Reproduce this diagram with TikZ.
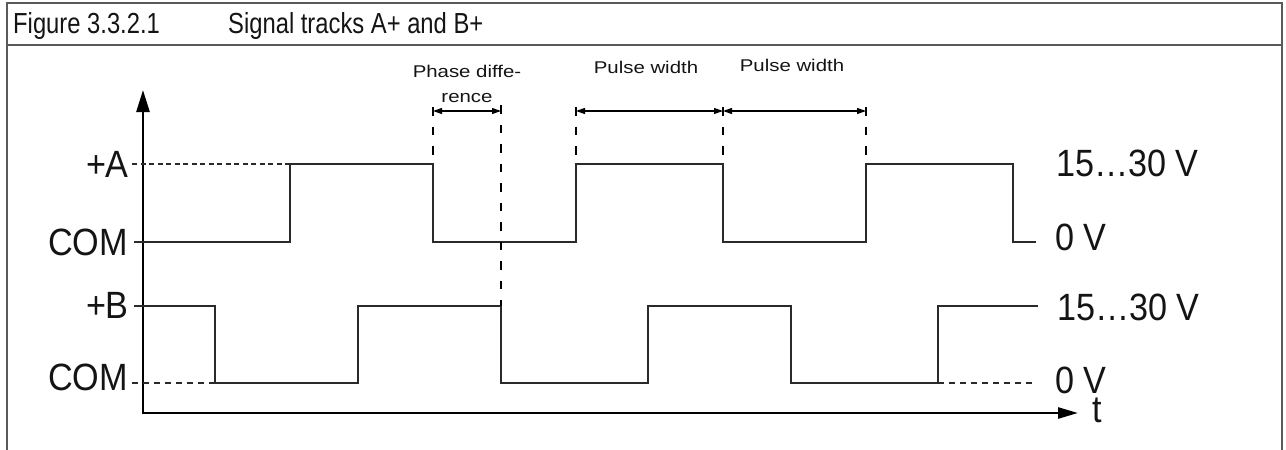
\documentclass[tikz,border=0pt]{standalone}
\usepackage{fontspec}
\setmainfont{Liberation Sans}
\newfontfamily\bigf[FakeStretch=0.9]{Liberation Sans}
\newfontfamily\titf[FakeStretch=0.82]{Liberation Sans}
\newfontfamily\smallf[FakeStretch=1.2]{Liberation Sans}
\usetikzlibrary{arrows.meta}
\definecolor{framecol}{HTML}{5A5A5A}
\definecolor{sigcol}{HTML}{2A2A2A}
\definecolor{txtcol}{HTML}{141414}
\tikzset{
  frameline/.style={draw=framecol, line width=1.4pt},
  sig/.style={draw=sigcol, line width=1.3pt, line join=miter},
  axisline/.style={draw=black, line width=2.6pt, line join=miter},
  dashA/.style={draw=sigcol, line width=1.1pt, dash pattern=on 5pt off 3.5pt},
  dashB/.style={draw=sigcol, line width=1.1pt, dash pattern=on 6pt off 5pt},
  guide/.style={draw=black, line width=1.1pt, dash pattern=on 8.5pt off 11pt},
  dimarrow/.style={draw=black, line width=1.1pt, {Triangle[length=9pt,width=6pt]}-{Triangle[length=9pt,width=6pt]}},
  titletext/.style={inner sep=0pt, text=txtcol, font=\titf\fontsize{29}{31}\selectfont},
  bigtext/.style={inner sep=0pt, text=txtcol, font=\bigf\fontsize{38}{40}\selectfont},
  smalltext/.style={inner sep=0pt, text=txtcol, font=\smallf\fontsize{17}{19}\selectfont},
}
\begin{document}
\begin{tikzpicture}[x=1pt,y=-1pt]
\useasboundingbox (0,0) rectangle (1286,450);
% frame
\draw[frameline] (7,450) -- (7,3) -- (1282,3) -- (1282,450);
\draw[frameline] (7,45) -- (1282,45);
% title
\node[titletext, anchor=base west] (fig) at (13,33.5) {Figure 3.3.2.1};
\node[titletext, anchor=base west] (title) at (228,33.5) {Signal tracks A+ and B+};
% axes
\coordinate (O) at (143,413);
\coordinate (Ytip) at (143,90);
\coordinate (Xtip) at (1078,413);
\draw[axisline, {Triangle[length=22pt,width=13pt]}-{Triangle[length=20pt,width=11pt]}] (Ytip) -- (O) -- (Xtip);
% dashed reference lines
\draw[dashA] (132,164) -- (290,164);
\draw[dashB] (132,383) -- (215,383);
\draw[dashB] (938,383) -- (1036,383);
% signal A
\draw[sig] (134,242) -- (290,242) -- (290,164) -- (433,164) -- (433,242) -- (576,242) -- (576,164) -- (723,164) -- (723,242) -- (866,242) -- (866,164) -- (1013,164) -- (1013,242) -- (1036,242);
% signal B
\draw[sig] (134,306) -- (215,306) -- (215,383) -- (358,383) -- (358,306) -- (501,306) -- (501,383) -- (648,383) -- (648,306) -- (791,306) -- (791,383) -- (938,383) -- (938,306) -- (1038,306);
% guide lines
\coordinate (g1) at (433,107); \coordinate (g2) at (501,105);
\coordinate (g3) at (576,107); \coordinate (g4) at (723,107); \coordinate (g5) at (866,107);
\draw[guide] (g1) -- (433,164);
\draw[guide] (g2) -- (501,306);
\draw[guide] (g3) -- (576,164);
\draw[guide] (g4) -- (723,164);
\draw[guide] (g5) -- (866,164);
% dimension arrows
\coordinate (d1) at (433,111); \coordinate (d2) at (501,111);
\coordinate (d3) at (576,111); \coordinate (d4) at (723,111); \coordinate (d5) at (866,111);
\draw[dimarrow] (d1) -- (d2);
\draw[dimarrow] (d3) -- (d4);
\draw[dimarrow] (d4) -- (d5);
% small labels
\node[smalltext, anchor=base] (ph1) at (467,77) {Phase diffe-};
\node[smalltext, anchor=base] (ph2) at (467,102.5) {rence};
\node[smalltext, anchor=base] (pw1) at (646,73.5) {Pulse width};
\node[smalltext, anchor=base] (pw2) at (792,71.5) {Pulse width};
% left labels
\node[bigtext, anchor=base east] (la) at (129,177) {+A};
\node[bigtext, anchor=base east] (lc1) at (128,255) {COM};
\node[bigtext, anchor=base east] (lb) at (129,318.5) {+B};
\node[bigtext, anchor=base east] (lc2) at (128,390) {COM};
% right labels
\node[bigtext, anchor=base west] (r1) at (1056,176) {15…30 V};
\node[bigtext, anchor=base west] (r2) at (1055,250) {0 V};
\node[bigtext, anchor=base west] (r3) at (1057,320) {15…30 V};
\node[bigtext, anchor=base west] (r4) at (1055,393) {0 V};
\node[bigtext, anchor=base west] (tl) at (1092,422) {t};
\end{tikzpicture}
\end{document}
